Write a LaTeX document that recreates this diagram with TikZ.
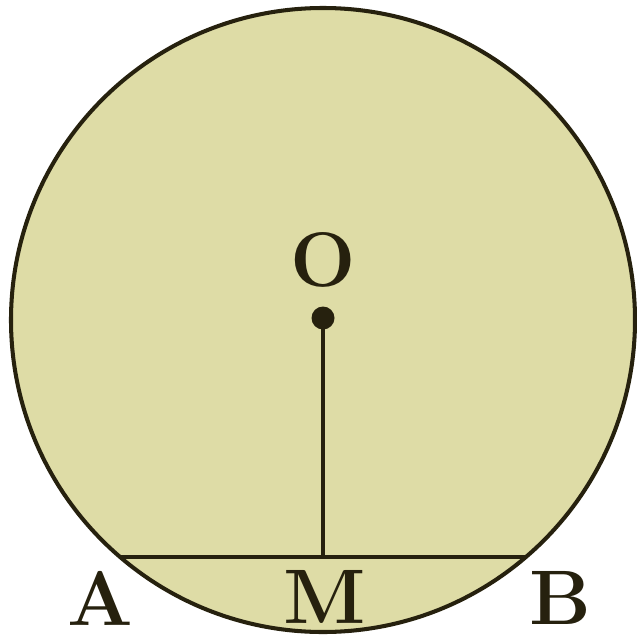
\documentclass[tikz,border=0pt]{standalone}
\usepackage{amsmath,amssymb}
\usepackage{tikz}

\definecolor{discfill}{RGB}{222,220,166}
\definecolor{inkline}{RGB}{38,33,14}

\begin{document}
\begin{tikzpicture}[scale=1.0,>=stealth,
  lbl/.style={inner sep=0pt,text=inkline,font=\fontsize{44}{44}\selectfont\bfseries},
  dotnode/.style={circle,fill=inkline,inner sep=0pt,minimum size=0.46cm}]
\useasboundingbox (0,0) rectangle (12.74,-12.76);
\filldraw[fill=discfill,draw=inkline,line width=2.3pt] (6.46,-6.40) circle (6.24);
\coordinate (A) at (2.40,-11.14);
\coordinate (B) at (10.52,-11.14);
\coordinate (M) at (6.46,-11.14);
\node[dotnode] (O) at (6.46,-6.36) {};
\draw[inkline,line width=2.3pt] (A) -- (B);
\draw[inkline,line width=2.8pt] (O.center) -- (M);
\node[lbl] (labO) at (6.46,-5.20) {O};
\node[lbl] (labA) at (2.00,-11.96) {A};
\node[lbl] (labM) at (6.50,-11.94) {M};
\node[lbl] (labB) at (11.20,-11.96) {B};
\end{tikzpicture}
\end{document}
